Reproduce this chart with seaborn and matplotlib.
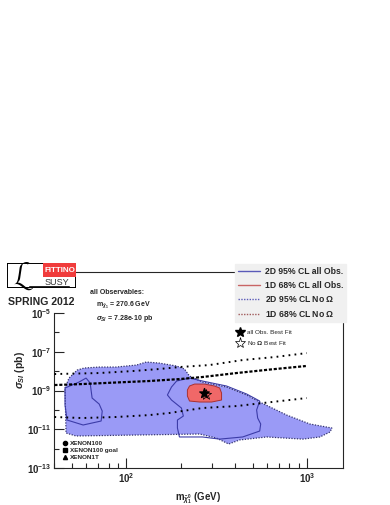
import numpy as np
import matplotlib
matplotlib.use("Agg")
import matplotlib.pyplot as plt
from matplotlib.lines import Line2D
from matplotlib.patches import Rectangle
from matplotlib.ticker import FixedLocator, NullFormatter
import seaborn as sns

sns.set_style("ticks")
plt.rcParams['font.family'] = ['Liberation Sans', 'DejaVu Sans']
plt.rcParams['mathtext.fontset'] = 'custom'
plt.rcParams['mathtext.rm'] = 'Liberation Sans:bold'
plt.rcParams['mathtext.it'] = 'Liberation Sans:bold:italic'

# --- data (neutralino mass in GeV, sigma_SI in pb) ---
# 2D 95% CL, no Omega (filled blue region)
noom_m = [45.8, 48.2, 53.5, 58.4, 70.8, 88, 114, 129, 152, 190, 210, 224, 264, 359, 464,
          548, 774, 1039, 1377, 1342, 1181, 950, 599, 424, 369, 316, 255, 108, 52.7, 46.4]
noom_s = [1.35e-9, 4.4e-9, 1.14e-8, 1.45e-8, 1.63e-8, 1.63e-8, 2.07e-8, 2.96e-8, 2.62e-8,
          1.84e-8, 1.29e-8, 5.6e-9, 2.75e-9, 1.52e-9, 5.9e-10, 2.55e-10, 5.4e-11, 1.87e-11,
          1.16e-11, 7.2e-12, 4.0e-12, 3.1e-12, 4.0e-12, 2.8e-12, 1.73e-12, 3.5e-12, 5.7e-12,
          5.0e-12, 4.5e-12, 6.4e-12]

# 2D 95% CL, all observables (two islands)
all_left_m = [45.8, 54.8, 59.9, 63.1, 64.7, 70.8, 73.6, 72.6, 57.7, 47.0, 45.8]
all_left_s = [1.35e-9, 2.75e-9, 4.4e-9, 2.44e-9, 4.1e-10, 2.0e-10, 8.7e-11, 2.67e-11,
              1.66e-11, 3.0e-11, 1.79e-10]
all_mid_m = [190, 224, 264, 359, 464, 548, 527, 534, 555, 548, 441, 329, 264, 197, 192,
             192, 207, 202, 178, 169, 178]
all_mid_s = [3.1e-9, 4.4e-9, 3.1e-9, 1.71e-9, 6.6e-10, 2.87e-10, 9.9e-11, 3.8e-11, 1.87e-11,
             8.1e-12, 4.0e-12, 3.1e-12, 4.0e-12, 4.0e-12, 1.16e-11, 3.0e-11, 4.8e-11,
             1.25e-10, 3.24e-10, 5.9e-10, 1.52e-9]

# 1D 68% CL, all observables (red region)
red_m = [224, 239, 271, 308, 329, 337, 337, 297, 255, 224, 218, 218]
red_s = [1.71e-9, 2.16e-9, 2.16e-9, 1.71e-9, 1.35e-9, 7.4e-10, 3.24e-10, 2.55e-10,
         2.55e-10, 2.87e-10, 5.2e-10, 1.06e-9]

# best fit points
best_all = (270.6, 7.28e-10)
best_noom = (278, 5.9e-10)

# direct detection limits
x100_m = [40, 70.8, 108, 152, 197, 289, 441, 664, 1000]
x100_s = [7.1e-9, 8.0e-9, 1.01e-8, 1.29e-8, 1.63e-8, 2.07e-8, 3.75e-8, 5.36e-8, 8.6e-8]
goal_m = [40, 57, 88, 134, 197, 264, 408, 623, 987]
goal_s = [1.92e-9, 2.16e-9, 2.6e-9, 3.1e-9, 3.9e-9, 4.98e-9, 8.0e-9, 1.21e-8, 1.84e-8]
x1t_m = [40, 57, 88, 134, 173, 264, 408, 570, 1000]
x1t_s = [4.3e-11, 3.8e-11, 4.3e-11, 5.4e-11, 6.9e-11, 1.25e-10, 1.58e-10, 2.26e-10, 4.1e-10]

blue_fill = '#9a9af6'
blue_line = '#3c3ca8'
red_fill = '#f06868'
red_line = '#a83030'

fig = plt.figure(figsize=(3.9, 5.05), dpi=100)
ax = fig.add_axes([54/390, 1-468/505, 289/390, 196/505])
ax.set_xscale('log')
ax.set_yscale('log')
ax.set_xlim(39.8, 1585)
ax.set_ylim(1e-13, 10**-2.88)

# regions
ax.fill(noom_m, noom_s, facecolor=blue_fill, edgecolor='#34346e', linestyle=(0, (1, 1.2)),
        linewidth=0.9, zorder=1)
ax.fill(all_left_m, all_left_s, facecolor='none', edgecolor=blue_line, linewidth=0.8, zorder=2)
ax.fill(all_mid_m, all_mid_s, facecolor='none', edgecolor=blue_line, linewidth=0.8, zorder=2)
ax.fill(red_m, red_s, facecolor=red_fill, edgecolor=red_line, linewidth=0.7, zorder=3)

# XENON limits
sns.lineplot(x=x100_m, y=x100_s, ax=ax, color='black', linewidth=1.4,
             linestyle=(0, (0.9, 2.2)), sort=False, zorder=4)
sns.lineplot(x=goal_m, y=goal_s, ax=ax, color='black', linewidth=1.6,
             linestyle=(0, (1.4, 0.8)), sort=False, zorder=4)
sns.lineplot(x=x1t_m, y=x1t_s, ax=ax, color='black', linewidth=1.4,
             linestyle=(0, (0.9, 2.2)), sort=False, zorder=4)
for ln in ax.lines:
    ln.set_dash_capstyle('butt')

# best fits
ax.scatter([best_noom[0]], [best_noom[1]], marker='*', s=60, facecolor='none',
           edgecolor='black', linewidth=0.5, zorder=5)
ax.scatter([best_all[0]], [best_all[1]], marker='*', s=50, color='black', zorder=6)

# ticks
ax.xaxis.set_major_locator(FixedLocator([100, 1000]))
ax.xaxis.set_minor_locator(FixedLocator([40, 50, 60, 70, 80, 90, 200, 300, 400, 500,
                                         600, 700, 800, 900]))
ax.xaxis.set_minor_formatter(NullFormatter())
ax.set_xticklabels([r'10$^{2}$', r'10$^{3}$'])
ax.yaxis.set_major_locator(FixedLocator([1e-13, 1e-11, 1e-9, 1e-7, 1e-5]))
ax.yaxis.set_minor_locator(FixedLocator([1e-12, 1e-10, 1e-8, 1e-6]))
ax.yaxis.set_minor_formatter(NullFormatter())
ax.set_yticklabels([r'10$^{-13}$', r'10$^{-11}$', r'10$^{-9}$', r'10$^{-7}$', r'10$^{-5}$'])
ax.tick_params(which='major', direction='in', length=7, width=0.8, labelsize=7, pad=2)
ax.tick_params(which='minor', direction='in', length=3.5, width=0.8)
for lab in ax.get_xticklabels() + ax.get_yticklabels():
    lab.set_fontweight('bold')
for sp in ax.spines.values():
    sp.set_linewidth(0.8)
ax.spines['left'].set_bounds(1e-13, 1e-5)

ax.set_xlabel(r'm$_{\tilde{\chi}^0_1}$ (GeV)', fontsize=7, fontweight='bold', labelpad=4)
ax.set_ylabel(r'$\sigma_{SI}$ (pb)', fontsize=7.5, fontweight='bold', labelpad=0)

# legends
handles = [Line2D([], [], color='#5a5ab8', lw=1),
           Line2D([], [], color='#c86464', lw=1),
           Line2D([], [], color='#5a5ab8', lw=1, linestyle=(0, (1, 1))),
           Line2D([], [], color='#a05a5a', lw=1, linestyle=(0, (1, 1)))]
labels = ['2D 95% CL all Obs.', '1D 68% CL all Obs.', '2D 95% CL No $\\Omega$',
          '1D 68% CL No $\\Omega$']
leg1 = fig.legend(handles, labels, loc='upper left', bbox_to_anchor=(235/390, 1-264/505),
                  frameon=True, fancybox=False, facecolor='#f0f0f0', edgecolor='#f0f0f0',
                  framealpha=1, prop={'size': 6.2, 'weight': 'bold'}, handlelength=2.6,
                  handletextpad=0.5, labelspacing=0.55, borderpad=0.35, borderaxespad=0)

star_h = [Line2D([], [], marker='*', color='black', linestyle='none', markersize=7),
          Line2D([], [], marker='*', markerfacecolor='white', markeredgecolor='black',
                 markeredgewidth=0.5, linestyle='none', markersize=8)]
leg2 = ax.legend(star_h, ['all Obs. Best Fit', r'No $\Omega$ Best Fit'], loc='upper left',
                 bbox_to_anchor=(234/390, 1-327/505), bbox_transform=fig.transFigure,
                 frameon=False, prop={'size': 4.6}, handlelength=1, handletextpad=0.7,
                 labelspacing=0.6, borderaxespad=0)
ax.add_artist(leg2)

dd_h = [Line2D([], [], marker='o', color='black', linestyle='none', markersize=3),
        Line2D([], [], marker='s', color='black', linestyle='none', markersize=3),
        Line2D([], [], marker='^', color='black', linestyle='none', markersize=3)]
ax.legend(dd_h, ['XENON100', 'XENON100 goal', 'XENON1T'], loc='upper left',
          bbox_to_anchor=(59/390, 1-438/505), bbox_transform=fig.transFigure,
          frameon=False, prop={'size': 4.6, 'weight': 'bold'}, handlelength=1,
          handletextpad=0.3, labelspacing=0.25, borderaxespad=0)

# best fit text
fig.text(90/390, 1-293/505, 'all Observables:', fontsize=5, fontweight='bold', va='center')
fig.text(96/390, 1-305/505, r'm$_{\tilde{\chi}_1}$ = 270.6 GeV', fontsize=5,
         fontweight='bold', va='center')
fig.text(96/390, 1-318/505, r'$\sigma_{SI}$ = 7.28e-10 pb', fontsize=5,
         fontweight='bold', va='center')

# logo
lax = fig.add_axes([7/390, 1-288/505, 69/390, 25/505])
lax.set_xlim(0, 69)
lax.set_ylim(0, 25)
lax.axis('off')
lax.add_patch(Rectangle((0, 0), 69, 25, facecolor='white', edgecolor='black', lw=1.4))
lax.add_patch(Rectangle((36, 11.5), 33, 13.5, facecolor='#f03c3c', edgecolor='none'))
lax.text(52.5, 18, 'FITTINO', color='white', fontsize=5.8, fontweight='bold',
         ha='center', va='center')
lax.text(17, 12, r'$\mathcal{L}$', fontsize=21, ha='center', va='center', color='black')
lax.text(50, 5.5, 'SUSY', fontsize=6.5, ha='center', va='center', color='#333333')
lax.plot([22, 62], [1.8, 1.8], color='black', lw=0.6)
fig.text(41/390, 1-302/505, 'SPRING 2012', fontsize=7.6, fontweight='bold',
         ha='center', va='center')

fig.savefig('out.png', dpi=100)
